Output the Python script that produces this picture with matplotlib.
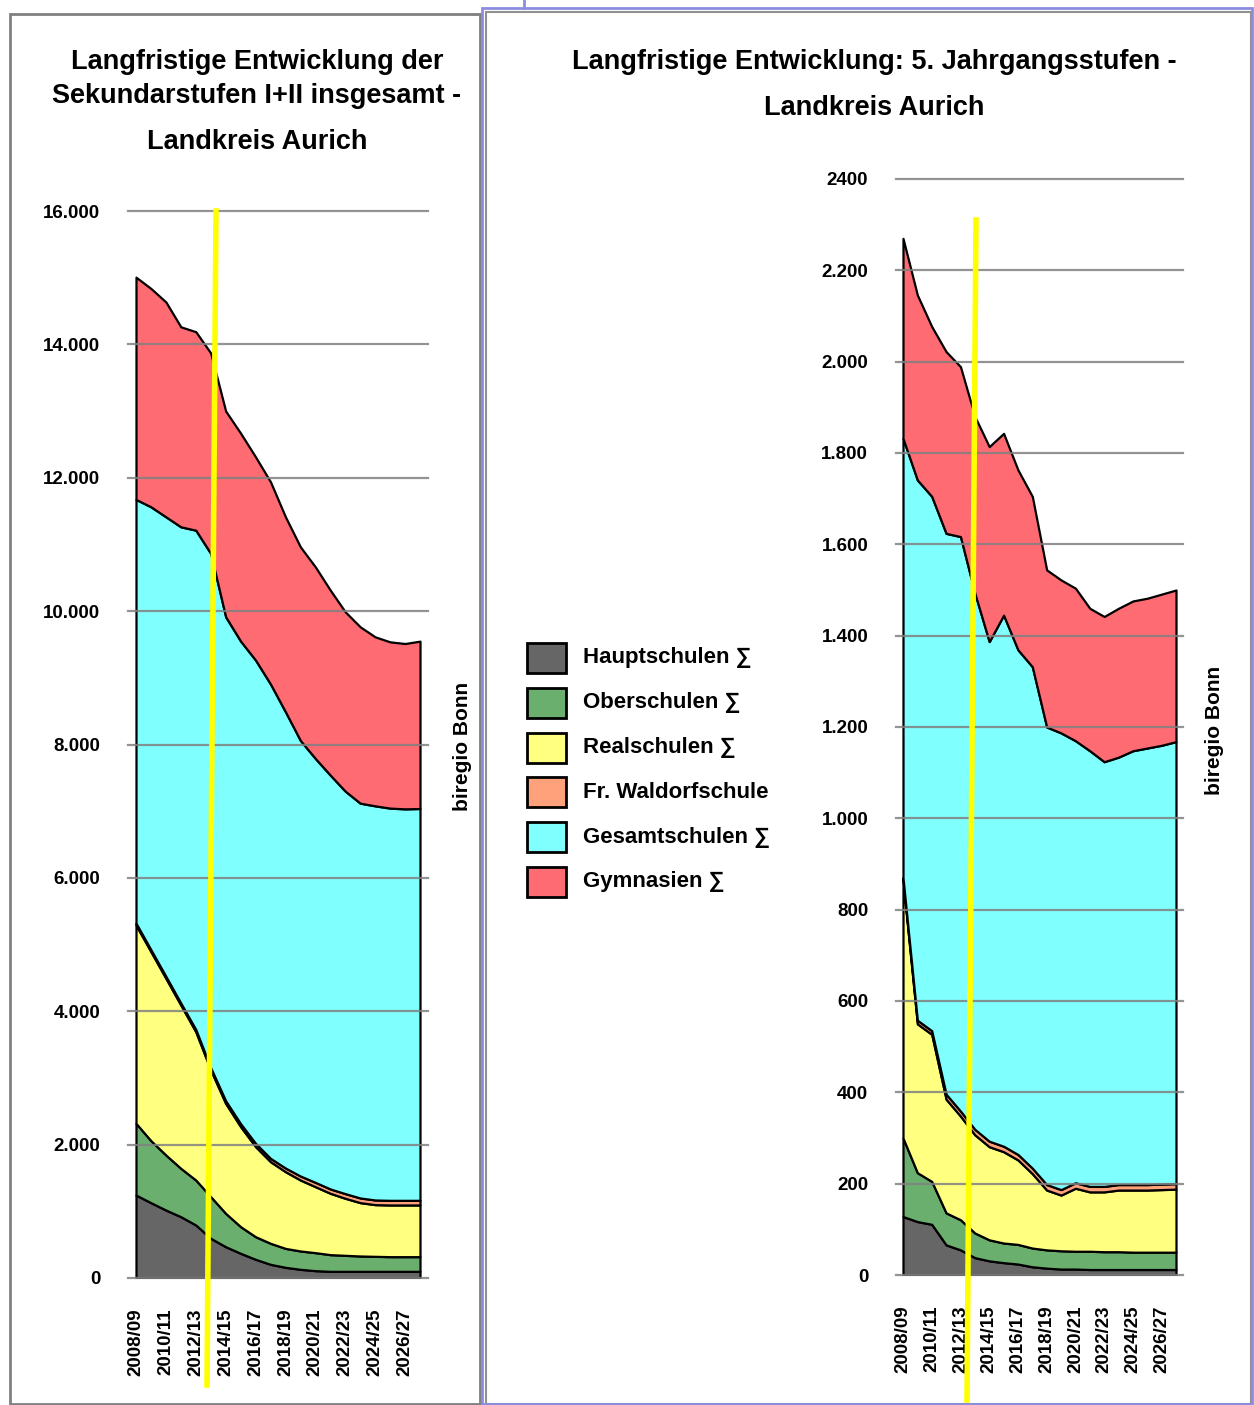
import matplotlib
matplotlib.use('Agg')
import matplotlib.pyplot as plt
import numpy as np
from matplotlib.patches import Rectangle
from matplotlib.lines import Line2D

plt.rcParams['font.family'] = ['Liberation Sans', 'DejaVu Sans']

years = ['2008/09', '2009/10', '2010/11', '2011/12', '2012/13', '2013/14', '2014/15',
         '2015/16', '2016/17', '2017/18', '2018/19', '2019/20', '2020/21', '2021/22',
         '2022/23', '2023/24', '2024/25', '2025/26', '2026/27', '2027/28']

labels = ['Hauptschulen ∑', 'Oberschulen ∑', 'Realschulen ∑', 'Fr. Waldorfschule',
          'Gesamtschulen ∑', 'Gymnasien ∑']
colors = ['#666666', '#6aaf6e', '#ffff80', '#ffa27c', '#80ffff', '#ff6b73']

# Sekundarstufen I+II insgesamt
sek_haupt = [1244, 1129, 1019, 919, 795, 595, 469, 370, 280, 205, 160, 130, 110, 100, 100, 100, 100, 100, 100, 100]
sek_ober = [1075, 930, 825, 725, 674, 624, 500, 399, 339, 315, 284, 275, 270, 250, 240, 230, 225, 220, 220, 220]
sek_real = [2973, 2834, 2650, 2449, 2224, 1899, 1649, 1500, 1350, 1224, 1150, 1064, 989, 920, 855, 800, 775, 775, 775, 775]
sek_wald = [30, 30, 30, 30, 35, 35, 40, 45, 50, 50, 55, 60, 65, 65, 70, 70, 70, 70, 70, 70]
sek_gesamt = [6353, 6641, 6890, 7141, 7486, 7711, 7257, 7236, 7246, 7112, 6841, 6531, 6356, 6205, 6035, 5920, 5910, 5881, 5870, 5875]
sek_gym = [3333, 3274, 3222, 2999, 2976, 3006, 3085, 3118, 3047, 3032, 2923, 2903, 2873, 2774, 2689, 2644, 2534, 2493, 2479, 2510]

# 5. Jahrgangsstufen
j5_haupt = [128, 117, 111, 66, 55, 38, 31, 27, 24, 18, 15, 13, 13, 12, 12, 12, 12, 12, 12, 12]
j5_ober = [172, 107, 94, 70, 66, 54, 46, 43, 43, 41, 40, 40, 39, 40, 39, 39, 38, 38, 38, 38]
j5_real = [565, 326, 322, 249, 227, 215, 204, 200, 185, 163, 131, 122, 138, 130, 131, 135, 136, 136, 137, 138]
j5_wald = [5, 8, 8, 11, 11, 12, 12, 12, 12, 12, 12, 12, 12, 12, 12, 12, 12, 12, 12, 12]
j5_gesamt = [962, 1183, 1170, 1228, 1258, 1174, 1094, 1163, 1105, 1098, 1002, 1000, 968, 954, 930, 936, 950, 956, 961, 968]
j5_gym = [438, 405, 372, 398, 372, 387, 427, 398, 394, 373, 344, 335, 334, 312, 318, 326, 328, 328, 331, 332]

left_ticks = [0, 2000, 4000, 6000, 8000, 10000, 12000, 14000, 16000]
left_ticklabels = ['0', '2.000', '4.000', '6.000', '8.000', '10.000', '12.000', '14.000', '16.000']
right_ticks = [0, 200, 400, 600, 800, 1000, 1200, 1400, 1600, 1800, 2000, 2200, 2400]
right_ticklabels = ['0', '200', '400', '600', '800', '1.000', '1.200', '1.400', '1.600',
                    '1.800', '2.000', '2.200', '2400']

W, H = 1254, 1405
fig = plt.figure(figsize=(W / 100, H / 100), dpi=100)


def fx(px):
    return px / W


def fy(py):
    return 1 - py / H


def area_chart(rect, series, ticks, ticklabels, xlim):
    ax = fig.add_axes(rect)
    x = np.arange(len(years))
    ax.stackplot(x, *series, colors=colors, edgecolor='black', linewidth=1.6, zorder=2)
    ax.set_xlim(*xlim)
    ax.set_ylim(ticks[0], ticks[-1])
    ax.set_yticks(ticks)
    ax.set_yticklabels(ticklabels, fontsize=13.5, fontweight='bold')
    ax.set_xticks(x[::2])
    ax.set_xticklabels(years[::2], rotation=90, fontsize=13.5, fontweight='bold', va='top')
    ax.tick_params(axis='y', length=0, pad=20)
    ax.tick_params(axis='x', length=0, pad=22)
    for t in ticks:
        ax.axhline(t, color='#808080', linewidth=1.6, zorder=3, alpha=0.85, clip_on=False)
    for s in ax.spines.values():
        s.set_visible(False)
    return ax


ax1 = area_chart([fx(128), fy(1278), fx(300), fy(211) - fy(1278)],
                 [sek_haupt, sek_ober, sek_real, sek_wald, sek_gesamt, sek_gym],
                 left_ticks, left_ticklabels, (-0.535, 19.535))
ax2 = area_chart([fx(896), fy(1275), fx(287), fy(179) - fy(1275)],
                 [j5_haupt, j5_ober, j5_real, j5_wald, j5_gesamt, j5_gym],
                 right_ticks, right_ticklabels, (-0.487, 19.487))

# titles
tsize = 19.5
fig.text(fx(257), fy(62), 'Langfristige Entwicklung der', ha='center', va='center',
         fontsize=tsize, fontweight='bold')
fig.text(fx(257), fy(96), 'Sekundarstufen I+II insgesamt -', ha='center', va='center',
         fontsize=tsize, fontweight='bold')
fig.text(fx(257), fy(142), 'Landkreis Aurich', ha='center', va='center',
         fontsize=tsize, fontweight='bold')
fig.text(fx(874), fy(62), 'Langfristige Entwicklung: 5. Jahrgangsstufen -', ha='center',
         va='center', fontsize=tsize, fontweight='bold')
fig.text(fx(874), fy(108), 'Landkreis Aurich', ha='center', va='center',
         fontsize=tsize, fontweight='bold')

# source notes
fig.text(fx(462), fy(746), 'biregio Bonn', rotation=90, ha='center', va='center',
         fontsize=15, fontweight='bold')
fig.text(fx(1215), fy(730), 'biregio Bonn', rotation=90, ha='center', va='center',
         fontsize=15, fontweight='bold')

# legend
for k, (lab, col) in enumerate(zip(labels, colors)):
    yc = 658 + k * 44.8
    fig.add_artist(Rectangle((fx(527), fy(yc + 15)), fx(39), fy(yc - 15) - fy(yc + 15),
                             facecolor=col, edgecolor='black', linewidth=2,
                             transform=fig.transFigure))
    fig.text(fx(583), fy(yc), lab, ha='left', va='center', fontsize=16, fontweight='bold')

# panel frames
fig.add_artist(Rectangle((fx(10), fy(1404)), fx(470), fy(14) - fy(1404), fill=False,
                         edgecolor='#808080', linewidth=2, transform=fig.transFigure))
fig.add_artist(Rectangle((fx(486), fy(1404)), fx(765), fy(12) - fy(1404), fill=False,
                         edgecolor='#909090', linewidth=1.5, transform=fig.transFigure))
fig.add_artist(Rectangle((fx(482), fy(1404)), fx(770), fy(8) - fy(1404), fill=False,
                         edgecolor='#8c8ce0', linewidth=2, transform=fig.transFigure))
fig.add_artist(Line2D([fx(524), fx(524)], [fy(0), fy(8)], color='#8c8ce0', linewidth=2,
                      transform=fig.transFigure))

# yellow marker lines
fig.add_artist(Line2D([fx(216), fx(207)], [fy(211), fy(1385)], color='#ffff00', linewidth=4,
                      transform=fig.transFigure, zorder=10))
fig.add_artist(Line2D([fx(976), fx(967)], [fy(220), fy(1400)], color='#ffff00', linewidth=4,
                      transform=fig.transFigure, zorder=10))

fig.savefig('out.png', dpi=100)
